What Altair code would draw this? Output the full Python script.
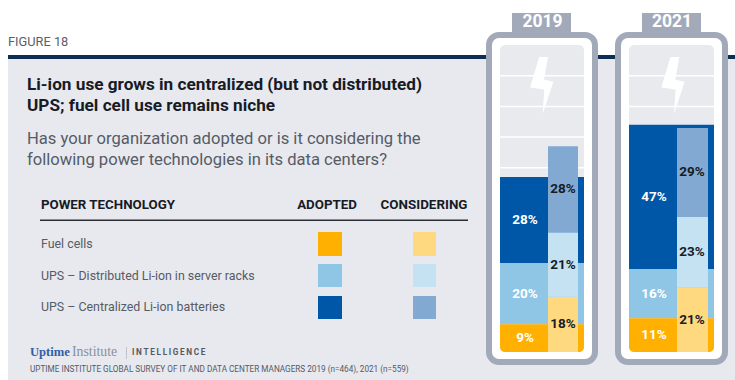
import altair as alt
import pandas as pd

# Survey results: share of respondents, by year, status and technology
YEARS = [2019, 2021]
STATUSES = ["Adopted", "Considering"]
TECHNOLOGIES = [
    "Fuel cells",
    "UPS – Distributed Li-ion in server racks",
    "UPS – Centralized Li-ion batteries",
]
ADOPTED_2019 = [9, 20, 28]
CONSIDERING_2019 = [18, 21, 28]
ADOPTED_2021 = [11, 16, 47]
CONSIDERING_2021 = [21, 23, 29]
GRID_LEVELS = [10, 20, 30, 40, 50, 60, 70, 80, 90]

ADOPTED_COLORS = ["#FFB000", "#8FC6E6", "#0057A8"]
CONSIDERING_COLORS = ["#FFD97F", "#C5E2F3", "#82A9D2"]

INK = "#171B26"
BODY = "#565B66"
PANEL = "#E7E9EE"
FRAME = "#A2AABA"
INNER = "#E9EAED"
NAVY = "#0B2E52"
FONT = "Roboto"

W, H = 735, 380
# Value axis: 0% sits on the battery floor, 100% on its ceiling
PX_ZERO, PX_PER_POINT = 352, 3.07
y_scale = alt.Scale(
    domain=[(PX_ZERO - H) / PX_PER_POINT, PX_ZERO / PX_PER_POINT],
    range=[H, 0],
    zero=False,
    nice=False,
)

# Horizontal geometry of each battery
BATTERY = {
    2019: dict(frame=(489, 595), tab=(512, 571), inner=(500, 584), bar=(548, 578),
               adopted_label=525, considering_label=563, bolt=541.7, year=542.5),
    2021: dict(frame=(618, 725), tab=(642, 701), inner=(629, 714), bar=(677, 708),
               adopted_label=654, considering_label=692, bolt=673, year=672),
}

rows = []
series = {
    (2019, "Adopted"): ADOPTED_2019,
    (2019, "Considering"): CONSIDERING_2019,
    (2021, "Adopted"): ADOPTED_2021,
    (2021, "Considering"): CONSIDERING_2021,
}
for (year, status), values in series.items():
    base = 0
    geo = BATTERY[year]
    for i, (tech, value) in enumerate(zip(TECHNOLOGIES, values)):
        left, right = geo["inner"] if status == "Adopted" else geo["bar"]
        rows.append(dict(
            year=year, status=status, tech=tech, value=value,
            y0=base, y1=base + value, mid=base + value / 2,
            left=left, right=right,
            label_x=geo["adopted_label"] if status == "Adopted" else geo["considering_label"],
            label=f"{value}%",
            key=f"{status}|{tech}",
            floor=i == 0 and status == "Adopted",
        ))
        base += value
df = pd.DataFrame(rows)

color_scale = alt.Scale(
    domain=[f"Adopted|{t}" for t in TECHNOLOGIES] + [f"Considering|{t}" for t in TECHNOLOGIES],
    range=ADOPTED_COLORS + CONSIDERING_COLORS,
)

one = pd.DataFrame({"n": [0]})


def box(x, x2, y, y2, color, **kw):
    return alt.Chart(one).mark_rect(color=color, **kw).encode(
        x=alt.value(x), x2=alt.value(x2), y=alt.value(y), y2=alt.value(y2)
    )


def text(content, x, y, size, color=BODY, weight="normal", align="left", font=FONT):
    return alt.Chart(one).mark_text(
        text=content, font=font, fontSize=size, color=color, fontWeight=weight,
        align=align, baseline="alphabetic",
    ).encode(x=alt.value(x), y=alt.value(y))


layers = [
    box(8, W, 58, H, PANEL),
    box(8, W, 55, 59, NAVY),
    text("FIGURE 18", 8, 46, 12.8, "#5A5F6B"),
    text("Li-ion use grows in centralized (but not distributed)", 27, 90, 17.2, INK, "bold"),
    text("UPS; fuel cell use remains niche", 27, 111, 17.2, INK, "bold"),
    text("Has your organization adopted or is it considering the", 27, 144, 16.6),
    text("following power technologies in its data centers?", 27, 165, 16.6),
    text("POWER TECHNOLOGY", 41, 209, 13.3, INK, "bold"),
    text("ADOPTED", 327, 209, 13.3, INK, "bold", "center"),
    text("CONSIDERING", 424, 209, 13.4, INK, "bold", "center"),
    box(40, 468, 219.5, 221, "#2A2D33"),
]

# Legend table rows
SWATCH_ROWS = [(232, 256, 248), (264, 287, 280), (296, 319, 311)]
for tech, adopted, considering, (top, bottom, base) in zip(
    TECHNOLOGIES, ADOPTED_COLORS, CONSIDERING_COLORS, SWATCH_ROWS
):
    layers.append(text(tech, 41, base, 12.4))
    layers.append(box(318, 342, top, bottom, adopted))
    layers.append(box(413, 436, top, bottom, considering))

# Wordmark and source line
layers += [
    text("Uptime", 30, 356, 12.6, "#2F5FA8", "bold", font="Liberation Serif"),
    text("Institute", 72, 356, 13.8, "#8A8F9A", font="Liberation Serif"),
    box(126, 126.8, 347, 359, "#B5B9C2"),
    text("\u2009".join("INTELLIGENCE"), 132, 355, 8.2, "#555A66", "bold"),
    text("UPTIME INSTITUTE GLOBAL SURVEY OF IT AND DATA CENTER MANAGERS 2019 (n=464), 2021 (n=559)",
         30, 372, 8.2, "#555A66"),
]

# Battery casings
BOLT_PATH = "M-0.09,-1 L0.22,-1 L0.08,-0.21 L0.41,-0.13 L0.035,1 L0.09,0.14 L-0.41,0.07 Z"
for year in YEARS:
    geo = BATTERY[year]
    layers += [
        box(*geo["tab"], 13, 34, FRAME),
        box(*geo["frame"], 35, 362, "#FFFFFF", stroke=FRAME, strokeWidth=6, cornerRadius=10),
        box(*geo["inner"], 45, 352, INNER, cornerRadius=5),
        text(str(year), geo["year"], 27, 17.5, "#FFFFFF", "bold", "center"),
    ]

# White capacity lines across each battery
grid = pd.DataFrame([
    dict(level=level, left=BATTERY[y]["inner"][0], right=BATTERY[y]["inner"][1])
    for y in YEARS for level in GRID_LEVELS
])
layers.append(
    alt.Chart(grid).mark_rule(color="#FFFFFF", strokeWidth=1.5).encode(
        x=alt.X("left:Q", scale=None),
        x2="right:Q",
        y=alt.Y("level:Q", scale=y_scale, axis=None),
    )
)

# Lightning bolt on each battery
bolts = pd.DataFrame({"x": [BATTERY[y]["bolt"] for y in YEARS]})
layers.append(
    alt.Chart(bolts).mark_point(
        shape=BOLT_PATH, size=57 ** 2, filled=True, opacity=1, color="#FFFFFF", strokeWidth=0
    ).encode(x=alt.X("x:Q", scale=None), y=alt.value(85.5))
)


def segments(frame, **kw):
    return alt.Chart(frame).mark_rect(**kw).encode(
        x=alt.X("left:Q", scale=None),
        x2="right:Q",
        y=alt.Y("y0:Q", scale=y_scale, axis=None),
        y2="y1:Q",
        color=alt.Color("key:N", scale=color_scale, legend=None),
    )


layers.append(segments(df[(df.status == "Adopted") & ~df.floor]))
layers.append(segments(df[df.floor], cornerRadiusBottomLeft=5, cornerRadiusBottomRight=5))
layers.append(segments(df[df.status == "Considering"]))

for status, color in [("Adopted", "#FFFFFF"), ("Considering", INK)]:
    layers.append(
        alt.Chart(df[df.status == status]).mark_text(
            font=FONT, fontSize=13.5, fontWeight="bold", color=color, baseline="middle", align="center"
        ).encode(
            x=alt.X("label_x:Q", scale=None),
            y=alt.Y("mid:Q", scale=y_scale, axis=None),
            text="label:N",
        )
    )

chart = (
    alt.layer(*layers)
    .resolve_scale(color="shared")
    .properties(
        width=W,
        height=H,
        padding=0,
        background="#FFFFFF",
        autosize=alt.AutoSizeParams(type="none"),
    )
    .configure_view(stroke=None)
)

chart.save("out.html", embed_options={"renderer": "svg", "actions": False})
